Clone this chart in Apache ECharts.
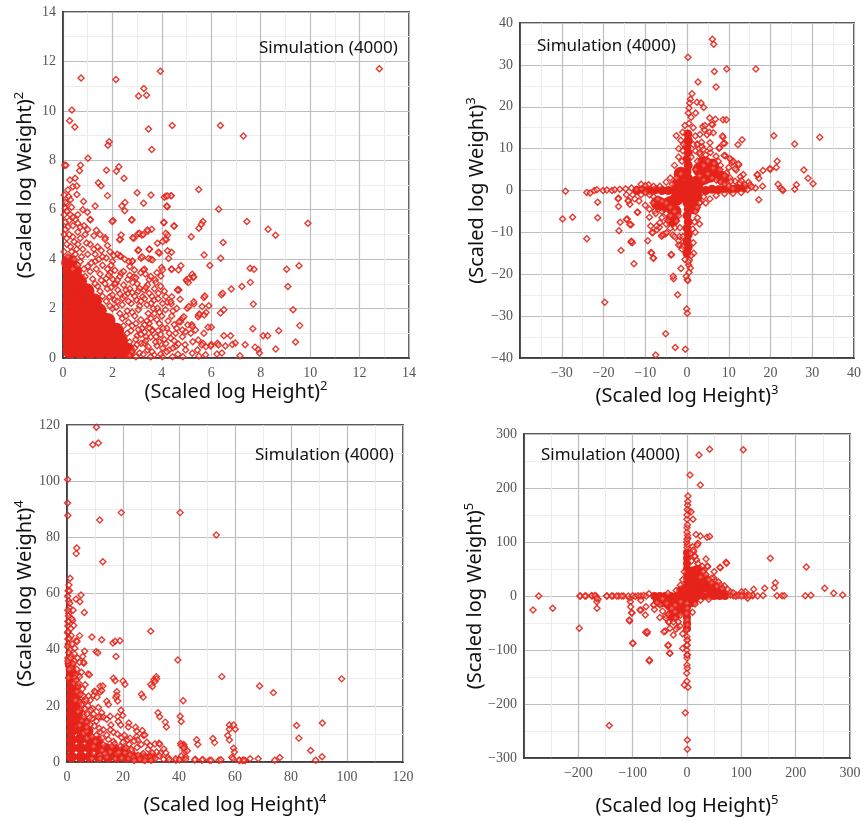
<!DOCTYPE html>
<html>
<head>
<meta charset="utf-8">
<script src="https://cdn.jsdelivr.net/npm/echarts@6/dist/echarts.min.js"></script>
<style>
  html, body { margin: 0; padding: 0; background: #fff; }
  #boot { width: 868px; height: 821px; }
</style>
</head>
<body>
<div id="boot"></div>
<script>
// axis ranges [min, max, interval] and exponents for the four panels
var sqRange = [0, 14, 2];
var cubeRange = [-40, 40, 10];
var quartRange = [0, 120, 20];
var quintRange = [-300, 300, 100];
var exponents = ['2', '3', '4', '5'];
var xLabel = '(Scaled log Height)';
var yLabel = '(Scaled log Weight)';
var simLabel = 'Simulation (4000)';

// (Scaled log Height)^2 vs (Scaled log Weight)^2 -- single points
var sqPoints = [
  [12.8,11.7],[0.73,11.33],[2.14,11.27],[3.94,11.6],[3.27,10.9],[3.06,10.6],[3.38,10.63],[0.36,10.03],[0.27,9.6],[0.48,9.35],
  [3.46,9.27],[4.42,9.41],[6.37,9.41],[7.3,8.98],[1.87,8.75],[1.82,8.61],[3.59,8.44],[1.01,8.08],[0.07,7.8],[0.12,7.8],
  [0.71,7.8],[0.67,7.58],[1.76,7.6],[2.26,7.74],[2.16,7.56],[2.47,7.27],[0.28,7.2],[0.49,7.27],[0.4,6.93],[0.56,6.96],
  [1.43,7.09],[1.54,6.97],[0.83,6.33],[1.8,6.57],[3.0,6.69],[3.56,6.6],[4.1,6.5],[4.17,6.55],[4.38,6.57],[4.22,6.12],
  [3.26,6.26],[2.38,6.15],[2.51,6.29],[5.49,6.82],[6.3,6.02],[1.3,6.15],[0.56,6.62],[0.23,6.53],[0.09,6.06],[0.16,6.26],
  [0.99,5.9],[2.03,5.55],[2.79,5.59],[2.5,5.96],[3.03,5.02],[3.19,4.98],[3.44,5.14],[3.59,5.21],[4.07,5.48],[4.5,5.34],
  [4.23,4.98],[4.18,4.78],[3.82,4.64],[5.19,4.91],[5.5,5.25],[5.66,5.52],[5.6,5.41],[6.48,4.67],[7.44,5.52],[8.3,5.21],
  [8.6,4.97],[9.91,5.45],[2.32,4.8],[2.87,4.85],[1.71,4.87],[1.35,5.17],[1.11,5.59],[3.03,4.35],[3.5,4.4],[4.39,4.28],
  [3.9,4.24],[2.32,4.13],[2.8,3.9],[3.16,4.04],[3.56,4.0],[3.99,3.66],[4.39,3.59],[4.77,3.73],[3.3,3.59],[5.71,4.17],
  [6.38,4.04],[5.94,3.74],[7.57,3.63],[7.73,3.59],[7.58,3.06],[7.24,2.89],[9.05,3.59],[9.55,3.73],[9.1,2.89],[6.81,2.79],
  [6.41,2.56],[6.46,2.62],[6.51,1.95],[6.37,1.82],[7.7,2.18],[9.31,1.95],[9.58,1.31],[8.73,1.1],[8.1,0.9],[8.28,0.9],
  [7.68,1.18],[6.78,0.9],[6.97,0.61],[7.37,0.54],[7.77,0.44],[7.9,0.34],[7.95,0.2],[8.61,0.36],[9.41,0.65],[7.16,0.09],
  [6.51,0.9],[6.25,0.6],[6.0,0.55],[6.0,1.24],[5.87,1.24],[5.9,2.11],[5.79,1.84],[5.7,2.45],[5.3,2.19],[5.5,1.75],
  [5.17,1.0],[5.21,1.35],[4.94,0.54],[5.66,0.6],[5.77,0.13],[6.23,0.16],[6.43,0.2],[5.23,3.39],[5.27,3.26],[5.01,3.12],
  [4.74,2.38],[4.66,2.76],[4.22,2.26],[4.38,2.19],[6.57,0.49],[6.29,0.53],[6.85,0.55],[5.98,0.49],[5.78,0.46],[5.44,0.32],
  [5.62,0.53],[5.7,1.0],[5.25,0.66],[5.47,0.73],[4.67,0.57],[4.83,0.86],[4.96,1.06],[5.05,1.34],[5.23,1.27],[5.36,1.13],
  [5.47,1.67],[5.52,1.78],[5.71,1.74],[5.63,2.08],[5.29,2.28],[5.03,2.01],[5.09,2.08],[4.83,1.61],[4.89,1.67],[4.76,1.47],
  [4.69,2.75],[4.99,3.16],[5.09,3.22],[5.07,3.05],[5.29,3.29],[5.74,2.51],[4.67,3.56],[4.4,3.59],[4.23,4.34],[4.27,4.03],
  [4.13,4.8],[4.03,4.71],[4.16,5.05],[4.49,5.34],[4.09,5.48],[4.37,6.56],[4.23,6.56],[4.2,6.15],[2.78,5.58],[1.99,5.52],
  [3.41,5.18],[3.09,5.05],[3.25,5.0],[2.82,4.87],[2.35,4.98],[2.29,4.78],[3.86,4.28],[3.49,4.4],[3.46,4.03],[3.62,3.97],
  [3.2,4.1],[3.06,4.37],[2.81,3.93],[2.66,3.9],[2.31,4.13],[4.03,3.56],[3.96,3.32],[3.73,3.16],[3.76,3.05],[3.49,3.18],
  [3.42,2.95],[3.25,3.56],[3.33,3.4],[2.89,3.56],[2.86,3.27],[2.62,3.18],[2.82,3.05],[2.35,3.43],[2.15,3.02],[2.02,3.18],
  [1.91,3.45],[1.75,3.22],[4.4,2.48],[4.63,2.75],[4.36,2.28],[4.16,2.48],[4.03,2.21],[3.86,2.62],[3.69,2.35],[3.82,2.01],
  [3.56,2.21],[3.49,2.62],[3.29,2.75],[3.09,2.82],[3.22,2.48],[2.98,2.35],[2.76,2.21],[2.62,2.62],[2.42,2.42],[2.22,2.75],
  [2.09,2.35],[1.89,2.48],[4.69,1.47],[4.83,1.13],[4.56,1.0],[4.36,0.8],[4.16,0.59],[4.29,0.32],[4.03,0.39],[3.89,0.66],
  [3.76,0.86],[3.62,1.13],[3.49,1.4],[3.36,0.86],[3.16,0.59],[4.02,0.05],[4.56,0.46],[4.96,0.32],[5.23,0.19],[5.5,0.08],
  [4.43,0.05],[3.69,0.12],[3.42,0.32],[2.7,0.1],[2.9,0.4],[3.1,0.2],[3.3,0.6],[2.6,1.0],[2.8,1.3],[3.0,0.9],
  [3.2,1.2],[3.4,1.5],[3.6,1.1],[3.7,1.8],[3.9,1.4],[4.2,1.2],[4.4,1.7],[4.6,2.0],[2.4,1.6],[2.6,1.9],
  [2.9,1.7],[3.1,2.1],[3.3,2.4],[2.0,2.0],[2.2,2.3],[2.5,2.5],[2.7,2.8],[3.0,3.0],[1.6,2.5],[1.8,2.8],
  [2.1,3.0],[2.3,3.3],[1.4,2.9],[1.2,3.2],[1.5,3.4],[1.8,3.6],[2.0,3.9],[0.9,3.3],[1.0,3.7],[1.3,3.9],
  [1.6,4.1],[0.7,3.9],[0.5,4.2],[0.8,4.4],[1.1,4.6],[1.4,4.5],[0.3,4.5],[0.4,4.9],[0.6,5.1],[0.9,5.0],
  [0.2,5.3],[0.15,4.6],[0.05,5.0],[0.1,5.5],[0.3,5.8],[0.5,5.6],[0.7,5.3],[1.1,5.6],[1.7,4.8],[1.9,4.3],
  [2.2,4.2],[1.3,4.2],[2.5,4.0],[0.05,5.8],[0.1,6.3],[0.35,6.1],[0.6,5.8],[0.8,6.0],[0.25,5.0],[0.05,4.3],[0.6,4.6],
  [2.8,0.25],[3.0,0.55],[3.25,0.15],[3.45,0.45],[3.6,0.25],[3.8,0.5],[3.95,0.15],[4.2,0.25],[4.45,0.4],[4.65,0.15],
  [4.85,0.05],[2.95,0.05],[3.55,0.05],[2.7,0.65],[2.95,0.75],[3.15,0.95],[3.35,0.7],[3.55,0.85],[3.75,0.65],[3.95,0.95],
  [4.1,0.75],[4.3,1.0],[4.5,0.7],[2.75,1.1],[3.05,1.15],[3.3,1.05],[3.5,1.2],[3.85,1.1],[4.05,1.2],[4.6,1.2],
  [2.45,1.3],[2.65,1.45],[2.95,1.4],[3.15,1.55],[3.3,1.35],[3.55,1.6],[3.8,1.55],[4.0,1.7],[4.25,1.5],[4.5,1.35],
  [2.3,1.8],[2.55,1.7],[2.8,1.85],[3.05,1.95],[3.45,1.8],[3.65,2.0],[3.9,1.85],[4.15,1.95],[4.45,1.9],[1.9,2.1],
  [2.15,2.05],[2.4,2.15],[2.65,2.3],[2.9,2.5],[3.15,2.3],[3.4,2.15],[3.6,2.5],[3.85,2.4],[4.1,2.7],[1.75,2.3],
  [2.0,2.55],[2.3,2.6],[2.55,2.75],[2.8,2.65],[3.05,2.7],[3.35,2.85],[3.7,2.8],[3.95,2.9],[1.5,2.7],[1.7,3.0],
  [1.95,2.85],[2.2,3.15],[2.45,2.95],[2.7,3.35],[2.95,3.25],[3.15,3.45],[3.55,3.3],[3.8,3.45],[1.3,3.0],[1.55,3.15],
  [1.85,3.35],[2.1,3.55],[2.45,3.5],[2.7,3.7],[1.1,3.5],[1.35,3.6],[1.6,3.75],[1.95,3.75],[0.85,3.6],[1.15,3.85],
  [1.45,4.0],[1.75,4.05],[2.05,4.15],[0.6,3.75],[0.75,4.1],[1.0,4.2],[1.25,4.4],[1.55,4.35],[1.8,4.55],[0.45,4.0],
  [0.55,4.4],[0.95,4.65],[0.4,3.6],[0.2,4.1],[0.35,4.3],[0.15,4.85],[0.45,4.7],[0.7,4.85],[0.1,5.2],[0.25,5.55],
  [0.4,5.35],[0.6,5.45],[0.15,5.95],[0.4,5.7],[0.85,5.35],[1.0,5.2],[1.25,4.95],[1.5,5.0],[0.05,6.6],[0.2,6.8],[0.3,6.4]
];
// solid red core near the origin
var sqCore = [
  [0.3,0.3],[0.7,0.3],[1.1,0.3],[1.5,0.3],[1.9,0.3],[2.3,0.3],[2.6,0.3],
  [0.3,0.7],[0.7,0.7],[1.1,0.7],[1.5,0.7],[1.9,0.7],[2.3,0.7],
  [0.3,1.1],[0.7,1.1],[1.1,1.1],[1.5,1.1],[1.9,1.1],[2.15,1.1],
  [0.3,1.5],[0.7,1.5],[1.1,1.5],[1.5,1.5],[1.8,1.5],
  [0.3,1.9],[0.7,1.9],[1.1,1.9],[1.45,1.9],
  [0.3,2.3],[0.7,2.3],[1.1,2.3],[1.25,2.3],
  [0.3,2.7],[0.7,2.7],[0.95,2.7],
  [0.3,3.1],[0.65,3.1],[0.3,3.5],[0.45,3.5],[0.25,3.85]
];

// cubes
var cubePoints = [
  [6.08,36.1],[6.4,34.9],[0.24,31.8],[6.56,28.4],[9.52,29.0],[16.5,29.0],[2.64,25.9],[6.96,24.7],[1.2,23.1],[0.8,21.8],
  [0.64,20.9],[0.48,19.7],[2.4,21.1],[3.36,20.9],[4.0,19.8],[2.08,18.5],[5.44,17.3],[6.8,17.0],[8.64,16.9],[9.44,16.9],
  [6.16,15.7],[3.76,15.3],[4.16,14.5],[4.8,13.3],[5.36,13.9],[8.64,12.7],[9.04,11.3],[13.2,12.1],[12.2,10.9],[20.8,13.1],
  [25.8,11.1],[31.8,12.7],[-2.56,13.1],[-1.04,13.9],[3.6,10.5],[2.4,11.1],[5.6,9.1],[7.68,10.1],[9.2,8.3],[10.6,7.3],
  [21.6,7.0],[21.4,5.5],[28,4.9],[29,2.9],[30.2,1.6],[26.2,1.4],[25.8,0.3],[21.8,1.5],[22.4,0.6],[23,0],
  [17.2,2.9],[16.8,3.7],[18.2,4.8],[20,5.1],[16.4,0.6],[18.1,1.0],[17.2,-2.2],[10.8,6.7],[12.4,6.1],[11.8,4.9],
  [12.8,3.3],[-29.1,-0.2],[-29.8,-6.8],[-27.4,-6.4],[-24,-0.5],[-23.2,-0.6],[-22.2,0],[-21.6,0.2],[-20.1,0],[-19.2,0.1],
  [-18,0],[-21.4,-2.8],[-21.4,-6.5],[-24,-11.5],[-19.7,-26.7],[-16.4,-1.8],[-16.4,-3.8],[-16.3,-9.6],[-16,-7.6],[-15.8,-14.3],
  [-14.3,-6.8],[-13.4,-8.2],[-13.4,-12.3],[-13.1,-12.5],[-12.7,-17.5],[-14,-2.4],[-11.8,-5.2],[-9.2,1.4],[-9.0,-6.4],[-9.4,-12],
  [-8.6,-14.8],[-8.0,-16.2],[-8.4,-10],[-7.5,-39.3],[-5.1,-34.2],[-2.8,-37.5],[-0.4,-37.9],[-2.24,-24.9],[-3.2,-21.1],[-1.44,-18.6],
  [-3.84,-15.4],[0.08,-21.3],[0.2,-21.5],[-0.08,-28.3],[0.08,-29.3],[0.4,-17.8],[0.6,-16.6],[1.6,-15.0],[1.36,-9.2],[3.2,-2.8],
  [-7.2,-9.4],[-6.6,-8.8],[-6.0,-10.7],[-5.2,-10.4],[-4.6,-7.2],[-3.4,-10.6],[-1.6,-13.0],[-1.0,-13.3],[8.5,13.0],[7.77,10.2],
  [8.73,11.2],[6.97,8.19],[8.89,8.35],[10.3,7.56],[11.1,7.0],[12.3,6.36],[11.5,5.17],[13.5,3.82],[14.7,1.99],[16.9,3.82],
  [19.8,5.17],[22.8,0.24],[3.1,13.4],[4.3,15.5],[5.9,15.8],[6.3,13.8],[5.5,11.4],[3.9,9.8],[3.1,8.6],[4.7,7.4],
  [6.3,5.4],[7.9,5.0],[9.5,4.2],[10.3,3.0],[11.5,2.2],[12.7,1.8],[13.9,1.4],[15.1,1.4],[-17.3,0.2],[-16.1,0.3],
  [-14.7,0.4],[-13.3,0.6],[-12.1,0.3],[-10.9,0.4],[-16.5,-2.0],[-13.7,-3.3],[-14.1,-2.5],[-12.5,-2.0],[-11.9,-5.2],[-14.5,-6.9],
  [-13.7,-8.1],[-13.3,-12.1],[-8.7,-8.5],[-8.2,-10.1],[-7.3,-8.5],[-6.5,-7.7],[-6.1,-10.9],[-5.7,-10.5],[-4.9,-10.1],[-8.5,-14.9],
  [-8.1,-16.1],[-3.7,-15.3],[-3.3,-20.5],[-2.5,-7.3],[-1.7,-8.9],[-2.9,-8.9],[-7.7,-4.9],[-8.1,-2.9],[0.5,16],[1,17.5],
  [0.3,18.5],[-0.5,15.5],[1.5,15],[2,13],[-1.5,12],[2.5,11],[-2,10],[3,9],[-1,9.5],[0.3,-17],
  [0.8,-18.5],[-0.5,-16.5],[1,-15.5],[-1.2,-14],[-2,-13],[1.5,-12.5],[-1.8,-11],[2,-10],[0.5,-19.5],[-0.2,-20.5],
  [4,6],[5,4],[6,3],[7,2.5],[8,2],[9,1.5],[10,1],[11,0.5],[2,5],[3,3.5],
  [4,2.5],[-4,-4],[-5,-3],[-6,-2.5],[-7,-2],[-8,-1.5],[-9,-1],[-10,-0.5],[-11,-1],[-3,-5],
  [-2,-6],[-4,-6],[-5,-5.5],[-6,-5],[-3,6],[-2,8],[-4,3],[3,-3],[2,-5],[4,-1.5],[-1.5,4],[1,8],[2.5,7],
  [5,7],[6.5,6.5],[7.5,7],[4.5,8.5],[5.5,10],[3.5,11.5],[2,9.5],[1.5,11],[-0.8,11],[-1.2,7],
  [-2.5,3],[-3.5,1.5],[-5,2],[-6.5,1],[-8,1],[-10,1.2],[-11.5,-2.5],[-10,-3.5],[-9,-4.5],[-7.5,-5.5],
  [-6,-6.5],[-5,-8],[-4,-9],[-3,-11],[-2,-12],[-1,-11],[2.5,-6.5],[3,-8],[1.8,-7.5],[2.5,-4],
  [4.5,-3],[5.5,-2],[7,-1.2],[9,-0.8],[11,-0.7],[13,-0.5],[14.5,0.2],[15.5,0.9],[13,2.4],[10.5,2.2],
  [9,3.5],[8,6],[10,5.5],[-13,-1],[-14.5,-1],[-11,1.5]
];
var cubeCore = [
  [0,-15],[0.3,-13.5],[0,-12],[0.3,-10.5],[0,-9],[0.3,-7.5],[0,-6],[0.3,-4.5],[0,-3],[0,-1.5],
  [0,0],[0,1.5],[0.3,3],[0,4.5],[0.3,6],[0,7.5],[0.3,9],[0,10.5],[0.3,12],[0.2,13.5],
  [-12,0],[-10.5,0.2],[-9,0],[-7.5,0.2],[-6,0],[-4.5,0],[-3,0],[-1.5,0],[1.5,0],[3,0.2],
  [4.5,0],[6,0.3],[7.5,0.2],[9,0.4],[10.5,0.3],[12,0.5],[13.5,0.6]
];
var cubeBlob = [
  [1,1],[-1,-1],[2.5,2],[-2.5,-2],[2,-1.5],[-2,1.5],[4,3],[5.5,3.5],[7,4],[3,5],
  [4,6.5],[-4,-3],[-5.5,-3.5],[-7,-3],[-3,-5],[-3.5,-7],[1.5,-4],[-1.5,4],[8.5,3],[6,6]
];

// fourth powers
var quartPoints = [
  [10.5,119.2],[9.2,113],[11.2,113.6],[0.2,100.6],[0.2,92.2],[0.3,87.8],[11.7,86.2],[19.4,88.8],[40.4,88.8],[53.3,80.8],
  [3.5,76.2],[3.3,74.2],[12.8,71.3],[1.1,65.4],[0.4,61],[0.9,61],[5,59.5],[4.6,57.1],[3.2,58],[0.6,57.4],
  [6.2,53.2],[0.6,52.9],[0.5,52],[2,50.4],[2.4,48.6],[0.3,48.4],[8.9,44.5],[3.3,43.2],[12.4,43.5],[16.4,42.4],
  [17.2,43],[18.9,43.2],[0.3,43.8],[0.4,42],[10.4,39.3],[6.3,39.4],[29.9,46.6],[39.6,36.3],[17.5,37.6],[5.6,37.6],
  [6.0,35.2],[7.5,31.3],[3.9,30.7],[16.6,29.8],[20,28.8],[29.9,27.6],[31.1,29.4],[31.9,30.4],[55.3,30.4],[98.1,29.6],
  [68.8,27.1],[73.7,24.7],[26.6,24.1],[41.5,21.8],[7.7,23.5],[9.8,25.2],[10.2,24.8],[11.8,27.0],[12.8,27.1],[14.2,21.6],
  [17.8,25],[17.4,23],[32.5,17.5],[35.1,14.2],[40.4,16.3],[19.3,18.4],[18.1,16.2],[22.1,13.9],[24.5,12.4],[26.9,11.2],
  [27.3,9.5],[58,13.2],[59.5,13.2],[57.4,9.4],[52.1,8.4],[46.3,7.9],[59.5,4.9],[58.9,1.7],[82,13],[82.8,8.5],
  [91.2,13.9],[87,4.1],[91.1,1.9],[88.8,0.6],[76,1.6],[74.2,0.6],[68.3,1.2],[65.4,1.2],[62.7,0.5],[63.6,0.5],
  [61.6,0.5],[54.3,0.6],[50.9,0.6],[48.2,0.6],[45.8,1.0],[42,4.0],[41.7,6.2],[40.6,6.6],[41.8,5.5],[43,4],
  [41.5,1.2],[38.9,0.6],[33.4,3.1],[34.6,4.6],[36.1,1.6],[29.7,5.8],[31.4,6.4],[32.9,6.7],[21.7,7.9],[24.9,9.1],
  [19.2,13.2],[15.7,13.2],[11.2,19.4],[9.2,19],[12.1,16],[13,16],[3.6,42.9],[11,38.9],[5.9,35.5],[8,31.1],
  [4.5,30.4],[17.2,28.9],[20.7,27.7],[32,29.6],[31.4,28.7],[30.5,26.9],[27.2,23.1],[5.7,23.7],[5.9,21.7],[9.5,23.7],
  [10.7,23.1],[11.8,24.9],[12.4,25.5],[17.8,23.7],[18.1,21.7],[14.8,20.5],[8.3,22],[4.7,21.4],[9.5,17.1],[12.4,17.5],
  [15.4,16.3],[19.9,16.6],[18.3,14.4],[14.2,15.2],[11.2,16],[7.1,14.2],[5.3,14.8],[8.3,13.3],[4.5,13.1],[33.1,16.1],
  [35.5,12.5],[40.8,14.4],[21.9,12.5],[24.9,11],[27.8,9.6],[25.2,7.8],[22.2,6.3],[19.5,8.7],[16.6,10.6],[14.2,9.6],
  [11.8,10.8],[16.6,7.3],[13,6.1],[10.1,7.3],[8.9,9.1],[7.1,8.5],[5.9,10.3],[33.1,6.3],[35.3,3.3],[32,3.6],
  [29,4.5],[27.2,3.0],[29.6,1.8],[25.4,2.4],[23.1,3.8],[20.7,3.3],[23.7,1.8],[21.9,1.2],[19.5,1.4],[17.8,3.0],
  [15.4,3.6],[17.2,1.2],[14.2,1.8],[11.8,2.4],[9.5,3.0],[11.8,1.2],[8.9,1.2],[40.8,5.9],[41.7,5.0],[42.4,1.8],
  [40.8,2.1],[46.7,6.2],[52.7,6.9],[58,11.7],[60.1,11.7],[58,7.8],[59.8,3.6],[36.4,0.9],[38.8,1.2],[40.2,0.8],
  [42.4,1.0],[45.6,0.7],[48.5,0.9],[51.5,0.6],[55,0.8],[59.2,1.2],[61.5,0.7],[63.1,0.7],[1.5,38],[2.5,36],
  [1,40],[2,33],[3,31],[4,27],[3.5,25],[2.5,28],[5,19],[6,17],[4,18],[7,11],
  [3,22],[1.5,45],[0.8,55],[1.5,33.5],[2.8,40.5],[0.3,37],[0.4,35],[0.2,46],[0.3,50],[4.5,45],[2.2,54],
  [0.5,30],[0.8,33],[0.3,36],[1.2,37],[0.6,39],[0.2,41],[1.8,42],[0.9,44],[0.4,46.5],[1.3,47.5],
  [0.6,50],[1.7,51],[0.3,54],[1.0,56.5],[0.2,59],[0.7,63],[2.8,30],[3.5,33],[2.2,35],[3.8,37],
  [4.5,35.5],[2.6,38.5],[5.2,32],[3.3,29],[4.2,28],[5.5,26],[6.5,27.5],[4.8,24],[6.8,22],[7.5,20],
  [5.2,20.5],[6.3,19],[8.5,18.5],[7.2,17],[9,15.5],[10.5,14.5],[6,16],[8,15.8],[9.8,12.8],[11.5,12],
  [13,11.5],[7,12.5],[12.5,8.5],[14.8,8],[15.5,11.5],[18,10],[20.5,9.5],[17,6.5],[19,5.5],[21,5],
  [23,4.5],[25,5.2],[26.5,6.2],[28.5,7],[24,7.5],[22.5,8.5],[20,7],[18.5,3.5],[26,1],[28,1.5],
  [30.5,3.2],[31.5,1.2],[33,2.2],[34.5,1],[30,0.6],[27.8,0.5],[24,0.5],[22.5,2.6],[16,5.5],[13.5,3],
  [12.5,4.2],[10.5,9.5],[9.5,5.5]
];
var quartCore = [
  [1.6,1.8],[1.6,5],[1.6,8],[1.6,11],[1.6,14],[1.6,17],[1.6,20],[1.6,23],[1.6,26],[1.6,29],[1.6,32],[1.2,34.5],
  [5,1.8],[8.2,1.8],[11.4,1.8],[14.6,1.8],[17.8,1.8],[21,1.8],[24,1.6],[27,1.5],[30,1.5],
  [4.8,5],[8,5],[11.2,5],[14,4.8],[17,4.5],[20,4],[4.8,8.2],[8,8],[11,7.5],
  [4.5,11.4],[7.5,11],[4.2,14.6],[6.5,14],[3.8,17.8],[3.5,21],[3.2,24],[3,27]
];

// fifth powers
var quintPoints = [
  [103.7,271],[41.7,271.6],[22.1,261],[5.5,224],[24.5,205.6],[1.8,185],[1.2,168.5],[3.1,157.4],[7.4,156],[0,142],
  [11,142],[0,126.5],[16.6,114],[24.5,111],[36.8,108.6],[41.7,110],[20.2,97.5],[1.8,106.8],[10.4,91.4],[12.3,82],
  [14.1,72.8],[35,68.5],[71.8,62.3],[61.3,52.5],[38,54.3],[30.7,46.3],[153.4,69.8],[219.6,53.7],[253.4,14.2],[270,4.9],
  [286.5,1.9],[217.8,0.6],[228,1.2],[162.6,24.7],[160.7,15.4],[143,14.2],[122.7,12.3],[165.6,0.6],[174.8,0.6],[179,0.6],
  [107.4,8],[111.7,-4.3],[101.2,3.1],[104,1],[121,0.6],[91,1.9],[80,1.9],[68.7,19.1],[52.1,27.8],[49,34],
  [61.3,20.4],[-273,0],[-283.4,-25.9],[-247.2,-22.8],[-196.3,0],[-185.9,0],[-174.8,0],[-167.5,0],[-163.8,-6.2],[-165.6,-22.8],
  [-198.2,-59.9],[-147.2,0],[-136.2,0],[-125.8,0],[-116.6,0],[-143,-240],[-105.5,-4.3],[-104.3,-10.5],[-105.5,-46.3],[-101.2,-31.5],
  [-99.4,-87.7],[-84.7,-25.9],[-76.7,-35.2],[-73.6,-69.1],[-76,-67],[-69.3,-120.4],[-61.3,-16.7],[-39.9,-64.8],[-35,-92],[-31.9,-106],
  [-33.7,-48.8],[-38.7,-36.4],[-21.5,-41.4],[-8,-97],[-4.9,-164.8],[1.8,-169],[-3.1,-216],[0.6,-266.7],[0.6,-284],[0,-127.8],
  [0.5,-133.8],[-0.5,-143],[0,-158],[0,-115],[0.8,-109],[-0.4,-100],[0,-91],[0.5,-82],[37.4,55.6],[60.8,53.1],
  [73,60.5],[30,45],[45.5,32.8],[57.7,26.5],[79.2,8],[100.7,8],[121,2],[14.7,74],[17.8,66.7],[6.8,79],
  [11.7,85],[19,94.4],[-166,-10.5],[-103.7,-19.8],[-101.9,-30.9],[-106.3,-44.4],[-86.6,-25.9],[-75.5,-19.8],[-73.1,-66.1],[-60.8,-16.7],
  [-100,-87.6],[-42.4,-66.1],[-38.7,-41.3],[-32.6,-47.5],[-34.4,-33.3],[-22.1,-29],[-17.9,-58],[-12.9,-55.6],[-20.3,-61.7],[-16,-47.5],
  [-31.3,-59.9],[-25.2,-72.2],[-34.4,-90.7],[-31.3,-106.1],[-69.4,-118.5],[-11.6,-10.5],[-22.1,-16.7],[-49.7,-16.7],[-37.4,-13.5],[-28.2,-22.8],
  [-197,0],[-188,0],[-175.5,1],[-169.4,1],[-166.3,-4],[-147.9,0],[-138.7,0],[-129.5,0],[-120.3,0],[-108.1,0],
  [-100,0.5],[-95,-1],[-90,0.5],[-85,0],[-80,1],[-75,0],[0,-13.6],[0.5,-22.8],[-0.5,-32],[0,-44.4],
  [0.5,-53.7],[-0.5,-63],[0,-75.4],[0.3,-81.5],[0,-90.7],[0,-109.3],[0,90],[0.5,95],[-0.5,100],[0,105],
  [1,112],[0,118],[0.8,132],[0,150],[0.5,160],[1.5,175],[85,0.5],[90,-0.5],[95,1],[100,0],
  [110,0.5],[115,1],[130,0],[140,1],[25,35],[35,40],[45,25],[55,18],[65,14],[75,12],
  [85,6],[20,60],[28,55],[8,65],[-5,45],[-8,30],[-12,20],[-20,10],[-35,5],[-45,-5],
  [-55,-12],[-60,-25],[-45,-28],[-50,-40],[-25,-48],[-12,-35],[-8,-70],[10,-30],[15,-15],[25,-8],
  [40,-6],[-70,4],[-85,-8],[50,45],[40,30]
];
var quintCore = [
  [0,-60],[0,-50],[0,-40],[0,-30],[0,-20],[0,-10],[0,0],[0,10],[0,20],[0,30],[0,40],[0,50],[0,60],[0,70],[0,80],
  [-60,0],[-50,0],[-40,0],[-30,0],[-20,0],[-10,0],[10,0],[20,0],[30,0],[40,0],[50,0],[60,0],[70,0]
];
var quintBlob = [
  [0,0],[12,8],[-10,-6],[8,-8],[-8,8],[20,15],[30,20],[40,18],[50,15],[60,10],
  [15,30],[20,45],[12,42],[30,30],[-20,-12],[-30,-15],[-15,-25],[-25,-35],[-40,-8],[-50,-8]
];

var RED = '#e5231a';
var myChart = echarts.init(document.getElementById('boot'));

function axisName(label, exp) {
  return label + '{sup|' + exp + '}';
}
function tickFormatter(hidden) {
  return function (v) {
    if (hidden !== null && v === hidden) return '';
    return v < 0 ? '\u2212' + (-v) : String(v);
  };
}

var panels = [
  { grid: { left: 63, top: 12, width: 346, height: 346 }, range: sqRange, exp: exponents[0],
    points: sqPoints, core: sqCore, coreSize: 16, blob: [], blobSize: 16,
    sim: { left: 254, top: 35 }, xGap: 22, yGap: 26, hideX: null },
  { grid: { left: 520, top: 23, width: 334, height: 335 }, range: cubeRange, exp: exponents[1],
    points: cubePoints, core: cubeCore, coreSize: 9, blob: cubeBlob, blobSize: 14,
    sim: { left: 532, top: 33 }, xGap: 26, yGap: 31, hideX: -40 },
  { grid: { left: 67, top: 425, width: 336, height: 337 }, range: quartRange, exp: exponents[2],
    points: quartPoints, core: quartCore, coreSize: 11, blob: [], blobSize: 16,
    sim: { left: 250, top: 442 }, xGap: 31, yGap: 30, hideX: null },
  { grid: { left: 524, top: 434, width: 326, height: 324 }, range: quintRange, exp: exponents[3],
    points: quintPoints, core: quintCore, coreSize: 8, blob: quintBlob, blobSize: 14,
    sim: { left: 536, top: 442 }, xGap: 36, yGap: 37, hideX: -300 }
];

var nameStyle = {
  fontFamily: 'Noto Sans', fontSize: 20, color: '#111', lineHeight: 24,
  rich: { sup: { fontFamily: 'Noto Sans', fontSize: 13, lineHeight: 12, color: '#111', verticalAlign: 'top' } }
};
var labelStyle = { fontFamily: 'Liberation Serif', fontSize: 14, color: '#555' };

var option = {
  backgroundColor: '#fff',
  animation: false,
  title: [],
  grid: [],
  xAxis: [],
  yAxis: [],
  series: []
};

panels.forEach(function (p, i) {
  option.grid.push(Object.assign({ show: true, borderColor: '#5a5a5a', borderWidth: 2, backgroundColor: '#fff' }, p.grid));
  option.title.push({
    text: simLabel, left: p.sim.left, top: p.sim.top,
    textStyle: { fontFamily: 'Noto Sans', fontSize: 17, fontWeight: 'normal', color: '#111' }
  });
  var common = {
    type: 'value', gridIndex: i,
    min: p.range[0], max: p.range[1], interval: p.range[2],
    nameLocation: 'middle', nameTextStyle: nameStyle, nameMoveOverlap: false,
    axisLine: { show: true, onZero: false, lineStyle: { color: '#333', width: 1.5 } },
    axisTick: { show: false },
    splitLine: { show: true, lineStyle: { color: '#bdbdbd', width: 1.2 } },
    minorTick: { show: false, splitNumber: 2 },
    minorSplitLine: { show: true, lineStyle: { color: '#ececec', width: 1 } }
  };
  option.xAxis.push(Object.assign({}, common, {
    name: axisName(xLabel, p.exp), nameGap: p.xGap,
    axisLabel: Object.assign({ margin: 8, formatter: tickFormatter(p.hideX) }, labelStyle)
  }));
  option.yAxis.push(Object.assign({}, common, {
    name: axisName(yLabel, p.exp), nameGap: p.yGap, nameRotate: 90,
    axisLabel: Object.assign({ margin: 7, formatter: tickFormatter(null) }, labelStyle)
  }));
  option.series.push({
    type: 'scatter', xAxisIndex: i, yAxisIndex: i, silent: true,
    symbol: 'circle', symbolSize: p.coreSize, data: p.core,
    itemStyle: { color: RED, opacity: 1 }
  });
  if (p.blob.length) {
    option.series.push({
      type: 'scatter', xAxisIndex: i, yAxisIndex: i, silent: true,
      symbol: 'circle', symbolSize: p.blobSize, data: p.blob,
      itemStyle: { color: RED, opacity: 1 }
    });
  }
  option.series.push({
    type: 'scatter', xAxisIndex: i, yAxisIndex: i, silent: true,
    symbol: 'diamond', symbolSize: 6, data: p.points,
    itemStyle: { color: 'rgba(255,255,255,0.3)', borderColor: RED, borderWidth: 1.4, opacity: 0.9 }
  });
});

myChart.setOption(option);
</script>
</body>
</html>
